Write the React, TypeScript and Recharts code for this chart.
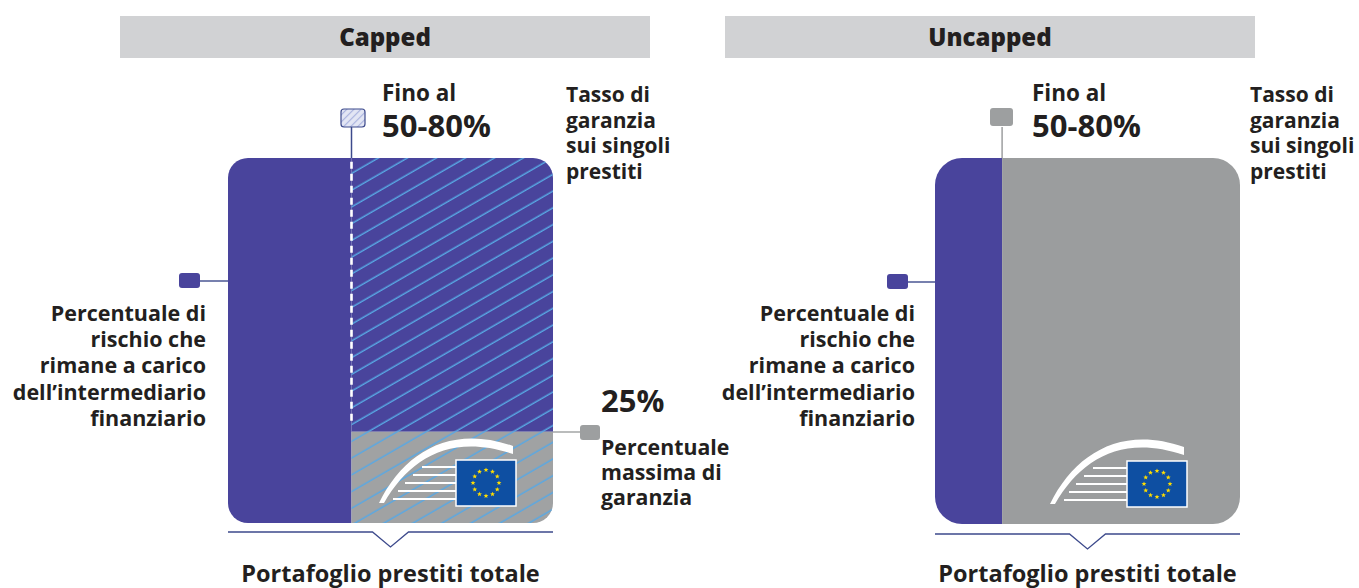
import React from "react";
import { ComposedChart, XAxis, YAxis, ReferenceArea, ReferenceLine } from "recharts";

// --- data ---
const panelTitles = ["Capped", "Uncapped"];
const retainedShare = [38, 22]; // width of the column kept by the intermediary (% of portfolio)
const guaranteeCap = [25, 100]; // height of the guaranteed block (25% cap vs whole column)
const rateLabel = "50-80%";
const rateIntro = "Fino al";
const capLabel = "25%";
const rateText = ["Tasso di", "garanzia", "sui singoli", "prestiti"];
const riskText = ["Percentuale di", "rischio che", "rimane a carico", "dell\u2019intermediario", "finanziario"];
const capText = ["Percentuale", "massima di", "garanzia"];
const footerText = "Portafoglio prestiti totale";

const PURPLE = "#49449c";
const GREY = "#9b9d9e";
const NAVY = "#3d4a8c";
const INK = "#231f20";
const HATCH = "#58a8e4";
const FONT = "'Open Sans', 'Noto Sans', sans-serif";

// layout of each panel (page pixels)
const layout = [
  {
    chartLeft: 0, chartWidth: 680,
    margin: { top: 158, left: 228, right: 127, bottom: 65 },
    radius: 20,
    header: [120, 650], titleX: 385,
    fino: 382, tasso: 566, riskRight: 206, bracketY: 532,
    leftMarker: [179, 273], topMarker: [341, 109], flag: [456, 460],
  },
  {
    chartLeft: 680, chartWidth: 679,
    margin: { top: 158, left: 255, right: 119, bottom: 64 },
    radius: 27,
    header: [725, 1255], titleX: 990,
    fino: 1032, tasso: 1250, riskRight: 915, bracketY: 534,
    leftMarker: [887, 274], topMarker: [990, 108], flag: [1127, 461],
  },
];

function roundedShape(r: number[], fill: string) {
  return (p: any) => {
    const { x, y, width: w, height: h } = p;
    const [tl, tr, br, bl] = r;
    const d = [
      `M${x + tl},${y}`,
      `H${x + w - tr}`,
      tr ? `A${tr},${tr} 0 0 1 ${x + w},${y + tr}` : "",
      `V${y + h - br}`,
      br ? `A${br},${br} 0 0 1 ${x + w - br},${y + h}` : "",
      `H${x + bl}`,
      bl ? `A${bl},${bl} 0 0 1 ${x},${y + h - bl}` : "",
      `V${y + tl}`,
      tl ? `A${tl},${tl} 0 0 1 ${x + tl},${y}` : "",
      "Z",
    ].join(" ");
    return <path d={d} fill={fill} />;
  };
}

function starPoints(cx: number, cy: number, R: number) {
  const pts: string[] = [];
  for (let i = 0; i < 10; i++) {
    const a = -Math.PI / 2 + (i * Math.PI) / 5;
    const rad = i % 2 ? R * 0.42 : R;
    pts.push(`${(cx + rad * Math.cos(a)).toFixed(2)},${(cy + rad * Math.sin(a)).toFixed(2)}`);
  }
  return pts.join(" ");
}

function EuLogo({ fx, fy }: { fx: number; fy: number }) {
  const lines = [
    [7, -34], [15, -43], [23, -51], [31, -58], [39, -63],
  ];
  const stars = Array.from({ length: 12 }, (_, i) => {
    const a = (i * Math.PI) / 6;
    return starPoints(fx + 30 + 13 * Math.sin(a), fy + 23 - 13 * Math.cos(a), 2.6);
  });
  return (
    <g>
      <path
        d={`M${fx - 77},${fy + 43} C${fx - 52},${fy - 8} ${fx - 5},${fy - 36} ${fx + 57},${fy - 14}
            L${fx + 57},${fy - 6} C${fx - 5},${fy - 27} ${fx - 46},${fy - 2} ${fx - 72},${fy + 43} Z`}
        fill="#fff"
      />
      {lines.map(([dy, dx], i) => (
        <line key={i} x1={fx + dx} x2={fx} y1={fy + dy} y2={fy + dy} stroke="#fff" strokeWidth={2} />
      ))}
      <rect x={fx} y={fy} width={60} height={46} fill="#0e4fa2" stroke="#fff" strokeWidth={1.5} />
      {stars.map((s, i) => (
        <polygon key={i} points={s} fill="#ffdd00" />
      ))}
    </g>
  );
}

function Panel({ i }: { i: number }) {
  const L = layout[i];
  const r = L.radius;
  const ret = retainedShare[i];
  const cap = guaranteeCap[i];
  const capped = cap < 100;
  const bh = 588 - L.margin.top - L.margin.bottom;
  const topExt = 100 + (31 / bh) * 100;
  return (
    <div style={{ position: "absolute", left: L.chartLeft, top: 0 }}>
      <ComposedChart width={L.chartWidth} height={588} margin={L.margin}>
        <XAxis type="number" dataKey="x" domain={[0, 100]} hide allowDataOverflow />
        <YAxis type="number" dataKey="y" domain={[0, 100]} hide allowDataOverflow />
        <ReferenceArea x1={0} x2={ret} y1={0} y2={100} shape={roundedShape([r, 0, 0, r], PURPLE)} />
        {capped && (
          <ReferenceArea x1={ret} x2={100} y1={cap} y2={100} shape={roundedShape([0, r, 0, 0], PURPLE)} />
        )}
        <ReferenceArea
          x1={ret} x2={100} y1={0} y2={cap}
          shape={roundedShape([0, capped ? 0 : r, r, 0], capped ? "#a0a2a3" : GREY)}
        />
        {capped && (
          <ReferenceArea x1={ret} x2={100} y1={0} y2={100} shape={roundedShape([0, r, r, 0], "url(#hatch)")} />
        )}
        {capped && (
          <ReferenceLine
            segment={[{ x: ret, y: cap + 3 }, { x: ret, y: 100 }]}
            stroke="#fff" strokeWidth={2.6} strokeDasharray="7 5"
          />
        )}
        <ReferenceLine
          segment={[{ x: ret, y: 100 }, { x: ret, y: topExt }]}
          ifOverflow="visible"
          stroke={capped ? NAVY : "#9d9fa0"} strokeWidth={1.5}
        />
      </ComposedChart>
    </div>
  );
}

function Overlay() {
  const t = { fontFamily: FONT, fontWeight: 700, fill: INK } as const;
  return (
    <svg width={1359} height={588} style={{ position: "absolute", left: 0, top: 0, pointerEvents: "none" }}>
      <defs>
        <pattern id="hatch" patternUnits="userSpaceOnUse" width={40} height={14.5} patternTransform="rotate(-30)">
          <line x1={0} x2={40} y1={7} y2={7} stroke={HATCH} strokeWidth={1.3} />
        </pattern>
        <pattern id="hatchSmall" patternUnits="userSpaceOnUse" width={10} height={5} patternTransform="rotate(-45)">
          <line x1={0} x2={10} y1={2.5} y2={2.5} stroke="#a9b2de" strokeWidth={1.2} />
        </pattern>
      </defs>
      {layout.map((L, i) => {
        const capped = guaranteeCap[i] < 100;
        const bx0 = L.margin.left + L.chartLeft;
        const bx1 = L.chartLeft + L.chartWidth - L.margin.right;
        const cx = (bx0 + bx1) / 2;
        const by = L.bracketY;
        return (
          <g key={i}>
            <rect x={L.header[0]} y={16} width={L.header[1] - L.header[0]} height={42} fill="#d1d2d4" />
            <text x={L.titleX} y={46} textAnchor="middle" fontSize={24} {...t} fontWeight={800}>
              {panelTitles[i]}
            </text>
            {/* top marker */}
            {capped ? (
              <g>
                <rect x={L.topMarker[0]} y={L.topMarker[1]} width={24} height={18} rx={3} fill="#e3e6f4" />
                <rect x={L.topMarker[0]} y={L.topMarker[1]} width={24} height={18} rx={3} fill="url(#hatchSmall)" stroke={NAVY} strokeWidth={1.2} />
              </g>
            ) : (
              <rect x={L.topMarker[0]} y={L.topMarker[1]} width={23} height={18} rx={3} fill="#9d9fa0" />
            )}
            <text x={L.fino} y={101} fontSize={22.5} {...t}>{rateIntro}</text>
            <text x={L.fino} y={137} fontSize={31} {...t}>{rateLabel}</text>
            {rateText.map((s, k) => (
              <text key={k} x={L.tasso} y={102 + k * 25.7} fontSize={21} {...t}>{s}</text>
            ))}
            {/* left marker */}
            <rect x={L.leftMarker[0]} y={L.leftMarker[1]} width={21} height={15} rx={3} fill={PURPLE} />
            <line
              x1={L.leftMarker[0] + 21} x2={bx0} y1={L.leftMarker[1] + 8} y2={L.leftMarker[1] + 8}
              stroke={NAVY} strokeWidth={1.4}
            />
            {riskText.map((s, k) => (
              <text key={k} x={L.riskRight} y={321 + k * 26.2} fontSize={21.5} textAnchor="end" {...t}>{s}</text>
            ))}
            {capped && (
              <g>
                <text x={601} y={412} fontSize={31} {...t}>{capLabel}</text>
                <line x1={bx1} x2={580} y1={432} y2={432} stroke="#9d9fa0" strokeWidth={1.4} />
                <rect x={580} y={425} width={20} height={15} rx={3} fill="#9d9fa0" />
                {capText.map((s, k) => (
                  <text key={k} x={601} y={455 + k * 25} fontSize={21.3} {...t}>{s}</text>
                ))}
              </g>
            )}
            <EuLogo fx={L.flag[0]} fy={L.flag[1]} />
            <polyline
              points={`${bx0},${by} ${cx - 18},${by} ${cx},${by + 15} ${cx + 18},${by} ${bx1},${by}`}
              fill="none" stroke={NAVY} strokeWidth={1.3}
            />
            <text x={cx} y={582} fontSize={23.5} textAnchor="middle" {...t}>{footerText}</text>
          </g>
        );
      })}
    </svg>
  );
}

export default function App() {
  return (
    <div style={{ position: "fixed", left: 0, top: 0, width: 1359, height: 588, background: "#fff", overflow: "hidden" }}>
      <Panel i={0} />
      <Panel i={1} />
      <Overlay />
    </div>
  );
}
